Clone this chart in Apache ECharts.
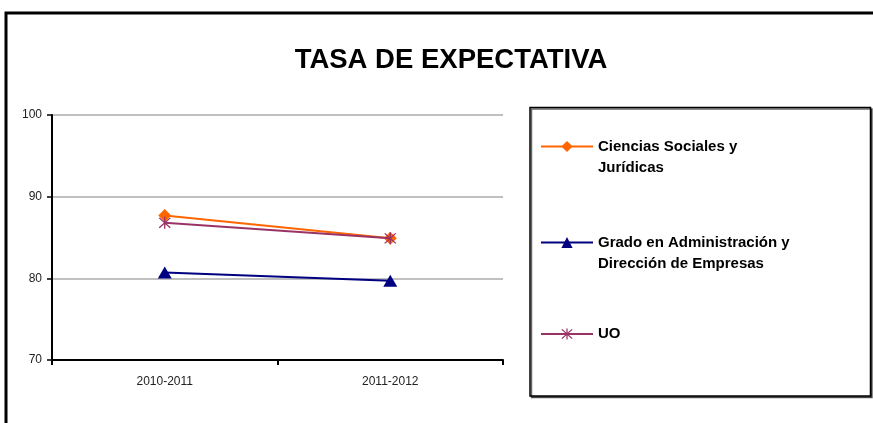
<!DOCTYPE html>
<html>
<head>
<meta charset="utf-8">
<script src="https://cdn.jsdelivr.net/npm/echarts@6/dist/echarts.min.js"></script>
<style>html,body{margin:0;padding:0;background:#fff;}#c{width:873px;height:423px;}</style>
</head>
<body>
<div id="c"></div>
<script>
var categories = ['2010-2011', '2011-2012'];
var seriesNames = ['Ciencias Sociales y Jurídicas', 'Grado en Administración y Dirección de Empresas', 'UO'];
var legendLabels = ['Ciencias Sociales y\nJurídicas', 'Grado en Administración y\nDirección de Empresas', 'UO'];
var cienciasSociales = [87.7, 84.9];
var gradoADE = [80.7, 79.7];
var uo = [86.8, 84.9];
var yTicks = [70, 80, 90, 100];
var titleText = 'TASA DE EXPECTATIVA';

var asterisk = 'path://M9,0L11,0L11,20L9,20Z M1,2.4L2.4,1L19,17.6L17.6,19Z M17.6,1L19,2.4L2.4,19L1,17.6Z';
var colors = ['#FF6600', '#000080', '#993366'];
var symbols = ['diamond', 'triangle', asterisk];
var symbolSizes = [13, [14, 12], 12];
var values = [cienciasSociales, gradoADE, uo];

var chart = echarts.init(document.getElementById('c'), null, {renderer: 'canvas'});

var font = 'Arial, "Liberation Sans", Helvetica, sans-serif';

function mkLegend(i, top) {
  var multi = legendLabels[i].indexOf('\n') >= 0;
  return {
    data: [seriesNames[i]],
    orient: 'vertical',
    left: 540,
    top: top,
    padding: 0,
    itemWidth: 52,
    itemHeight: 14,
    selectedMode: false,
    formatter: function () { return multi ? '\n' + legendLabels[i] : legendLabels[i]; },
    textStyle: {fontFamily: font, fontSize: 15, fontWeight: 'bold', color: '#000', lineHeight: 21}
  };
}

var series = seriesNames.map(function (n, i) {
  return {
    name: n,
    type: 'line',
    data: values[i],
    symbol: symbols[i],
    symbolSize: symbolSizes[i],
    showAllSymbol: true,
    lineStyle: {color: colors[i], width: 2},
    itemStyle: {color: colors[i]},
    z: i === 2 ? 3 : (i === 0 ? 2 : 1),
    animation: false
  };
});

chart.setOption({
  animation: false,
  backgroundColor: '#fff',
  title: {
    text: titleText,
    left: 446,
    textAlign: 'center',
    top: 41,
    textStyle: {fontFamily: font, fontSize: 27.5, fontWeight: 'bold', color: '#000'}
  },
  graphic: [
    {type: 'rect', shape: {x: 6, y: 13, width: 900, height: 450}, style: {fill: 'none', stroke: '#000', lineWidth: 3}, z: 0, silent: true},
    {type: 'rect', shape: {x: 530, y: 107.5, width: 340.5, height: 288.5}, style: {fill: '#fff', stroke: '#000', lineWidth: 1.5, shadowColor: 'rgba(0,0,0,0.6)', shadowOffsetX: 1.5, shadowOffsetY: 1.5, shadowBlur: 0}, z: 0, silent: true}
  ],
  legend: [mkLegend(0, 115), mkLegend(1, 211), mkLegend(2, 323.5)],
  grid: {left: 52, right: 370, top: 115, bottom: 63, containLabel: false},
  xAxis: {
    type: 'category',
    data: categories,
    boundaryGap: true,
    axisLine: {lineStyle: {color: '#000', width: 2}},
    axisTick: {show: true, length: 5, lineStyle: {color: '#000', width: 2}},
    axisLabel: {fontFamily: font, fontSize: 12, color: '#222', margin: 16},
    splitLine: {show: false}
  },
  yAxis: {
    type: 'value',
    min: yTicks[0],
    max: yTicks[yTicks.length - 1],
    interval: 10,
    axisLine: {show: true, lineStyle: {color: '#000', width: 2}},
    axisTick: {show: true, length: 5, lineStyle: {color: '#000', width: 1.5}},
    axisLabel: {fontFamily: font, fontSize: 12, color: '#222', margin: 10},
    splitLine: {show: true, lineStyle: {color: '#c0c0c0', width: 2}}
  },
  series: series
});
</script>
</body>
</html>
